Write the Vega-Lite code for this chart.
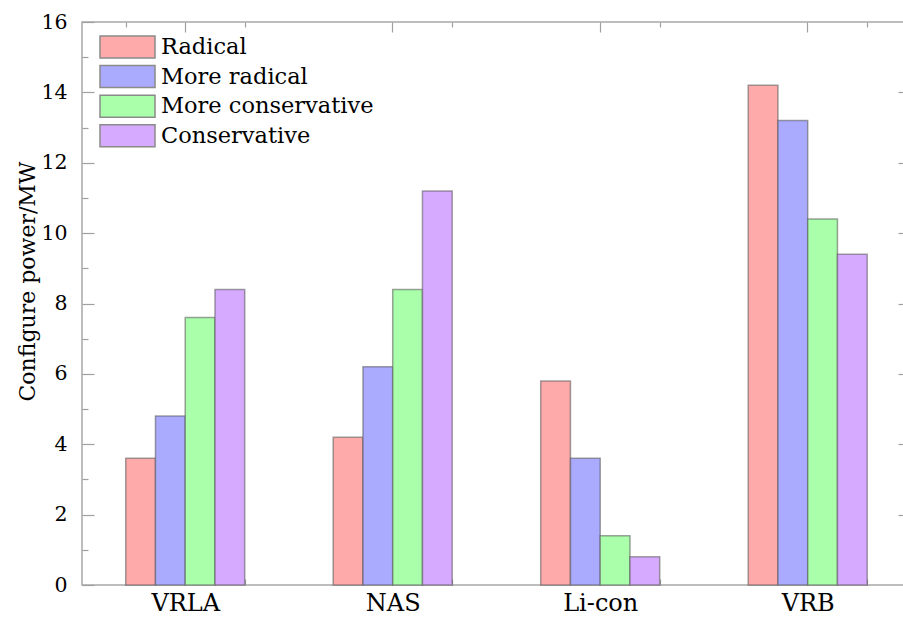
{
  "$schema": "https://vega.github.io/schema/vega-lite/v6.json",
  "width": 822,
  "height": 563,
  "autosize": {"type": "none"},
  "padding": {"left": 82, "top": 22, "right": 0, "bottom": 34},
  "background": "white",
  "config": {
    "view": {"stroke": "#a8a8a8", "strokeWidth": 1.5},
    "font": "DejaVu Serif",
    "axis": {"domain": false, "grid": false, "tickColor": "#a0a0a0", "tickWidth": 1.2, "labelColor": "#000000", "titleColor": "#000000", "labelFont": "DejaVu Serif", "titleFont": "DejaVu Serif"},
    "legend": {"labelFont": "DejaVu Serif"}
  },
  "data": {
    "values": [
      {"tech": "VRLA", "scenario": "Radical", "value": 3.6},
      {"tech": "VRLA", "scenario": "More radical", "value": 4.8},
      {"tech": "VRLA", "scenario": "More conservative", "value": 7.6},
      {"tech": "VRLA", "scenario": "Conservative", "value": 8.4},
      {"tech": "NAS", "scenario": "Radical", "value": 4.2},
      {"tech": "NAS", "scenario": "More radical", "value": 6.2},
      {"tech": "NAS", "scenario": "More conservative", "value": 8.4},
      {"tech": "NAS", "scenario": "Conservative", "value": 11.2},
      {"tech": "Li-con", "scenario": "Radical", "value": 5.8},
      {"tech": "Li-con", "scenario": "More radical", "value": 3.6},
      {"tech": "Li-con", "scenario": "More conservative", "value": 1.4},
      {"tech": "Li-con", "scenario": "Conservative", "value": 0.8},
      {"tech": "VRB", "scenario": "Radical", "value": 14.2},
      {"tech": "VRB", "scenario": "More radical", "value": 13.2},
      {"tech": "VRB", "scenario": "More conservative", "value": 10.4},
      {"tech": "VRB", "scenario": "Conservative", "value": 9.4}
    ]
  },
  "layer": [
    {
      "mark": {"type": "bar", "stroke": "#555555", "strokeOpacity": 0.55, "strokeWidth": 1.5},
      "encoding": {
        "x": {
          "field": "tech", "type": "nominal", "sort": ["VRLA", "NAS", "Li-con", "VRB"],
          "scale": {"paddingInner": 0.4265, "paddingOuter": 0.194, "align": 0.543},
          "axis": {"orient": "bottom", "title": null, "labelAngle": 0, "tickBand": "extent", "tickSize": -6, "labelFont": "DejaVu Serif", "labelFontSize": 24, "labelPadding": 12}
        },
        "xOffset": {
          "field": "scenario", "type": "nominal",
          "sort": ["Radical", "More radical", "More conservative", "Conservative"],
          "scale": {"paddingInner": 0, "paddingOuter": 0}
        },
        "y": {
          "field": "value", "type": "quantitative",
          "scale": {"domain": [0, 16], "nice": false},
          "axis": {
            "orient": "left",
            "title": "Configure power/MW",
            "titleFont": "DejaVu Serif",
            "titleFontSize": 22, "titleFontWeight": "normal",
            "titleAngle": -90, "titleAlign": "center", "titleBaseline": "alphabetic",
            "titleX": -48, "titleY": 259,
            "values": [0,1,2,3,4,5,6,7,8,9,10,11,12,13,14,15,16],
            "labelExpr": "datum.value % 2 === 0 ? datum.label : ''",
            "tickSize": {"condition": {"test": "datum.value % 2 === 0", "value": -12}, "value": -6},
            "labelFont": "DejaVu Serif",
            "labelFontSize": 20.5, "labelPadding": 27
          }
        },
        "color": {
          "field": "scenario", "type": "nominal",
          "sort": ["Radical", "More radical", "More conservative", "Conservative"],
          "scale": {"domain": ["Radical", "More radical", "More conservative", "Conservative"], "range": ["#ffaaaa", "#aaaaff", "#aaffaa", "#d6aaff"]},
          "legend": {
            "title": null, "orient": "none", "legendX": 33.5, "legendY": 13,
            "symbolType": "M-2.5,-1H2.5V1H-2.5Z", "symbolSize": 484,
            "symbolStrokeColor": "#8a8a8a", "symbolStrokeWidth": 1.5, "symbolOpacity": 1,
            "labelFont": "DejaVu Serif",
            "labelFontSize": 22.5, "labelColor": "#000000",
            "labelOffset": 21.5, "rowPadding": 1.6, "padding": 0, "labelLimit": 400
          }
        }
      }
    },
    {
      "mark": {"type": "bar", "opacity": 0},
      "encoding": {
        "x": {
          "field": "tech", "type": "nominal", "sort": ["VRLA", "NAS", "Li-con", "VRB"],
          "axis": {"orient": "top", "title": null, "labels": false, "tickBand": "center", "tickSize": -10}
        },
        "y": {
          "field": "value", "type": "quantitative",
          "axis": {"orient": "right", "title": null, "labels": false, "values": [2,4,6,8,10,12,14], "tickSize": -6}
        }
      }
    },
    {
      "mark": {"type": "bar", "opacity": 0},
      "encoding": {
        "x": {
          "field": "tech", "type": "nominal", "sort": ["VRLA", "NAS", "Li-con", "VRB"],
          "axis": {"orient": "top", "title": null, "labels": false, "tickBand": "extent", "tickSize": -5}
        },
        "y": {"field": "value", "type": "quantitative", "axis": null}
      }
    }
  ],
  "resolve": {"axis": {"x": "independent", "y": "independent"}}
}
